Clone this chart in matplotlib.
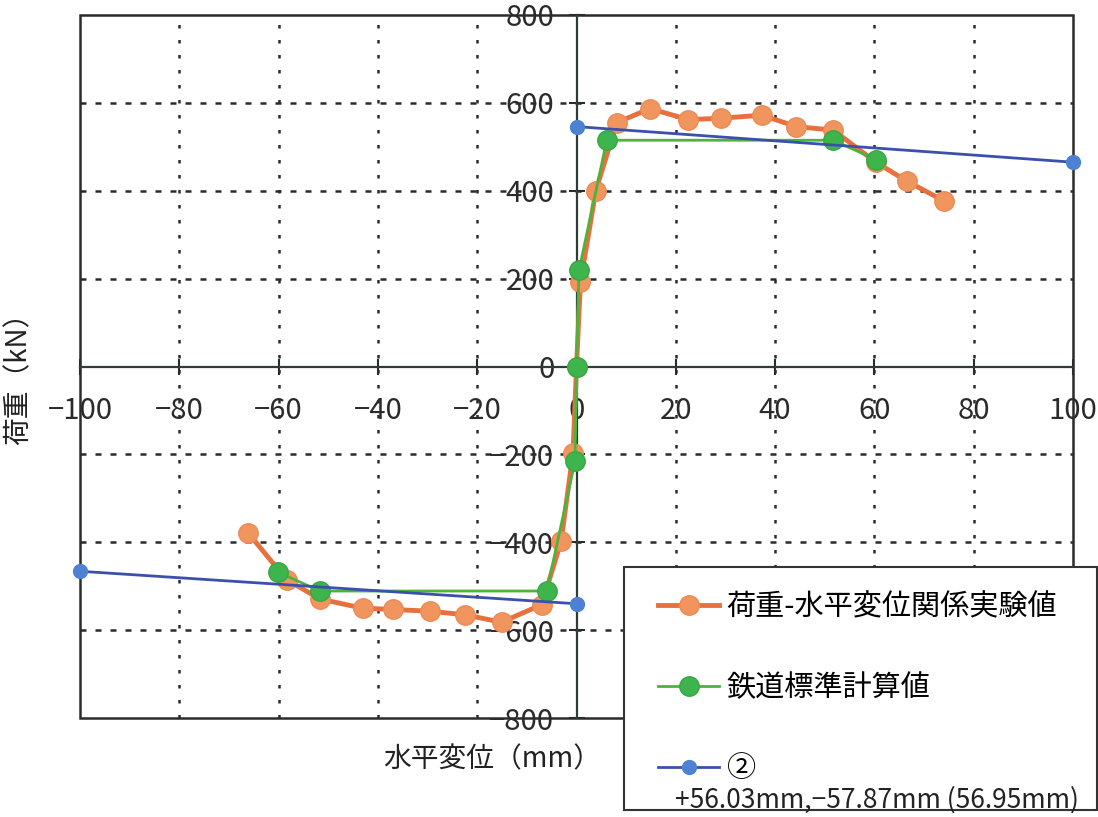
import numpy as np
import matplotlib
matplotlib.use("Agg")
import matplotlib.pyplot as plt
from matplotlib.patches import Rectangle

plt.rcParams['font.family'] = ['Noto Sans CJK JP', 'DejaVu Sans']

# Experimental load - horizontal displacement values (orange)
exp_x = [-66.2, -58.4, -51.7, -43.1, -36.9, -29.5, -22.5, -15.1, -7.0, -3.1, -0.7, 0.0,
         0.8, 3.9, 8.1, 14.8, 22.5, 29.1, 37.3, 44.3, 51.7, 60.3, 66.5, 74.0]
exp_y = [-378, -485, -529, -550, -553, -557, -565, -582, -542, -398, -196, 0,
         192, 400, 555, 587, 562, 565, 572, 546, 538, 465, 422, 377]

# Railway standard calculation (green)
calc_x = [-60.1, -51.7, -6.0, -0.3, 0.0, 0.5, 6.1, 51.7, 60.3]
calc_y = [-468, -511, -511, -216, 0, 219, 515, 515, 471]

# Case 2 lines (blue)
blue_neg_x = [-100, 0]
blue_neg_y = [-466, -540]
blue_pos_x = [0, 100]
blue_pos_y = [546, 465]

x_ticks = np.arange(-100, 101, 20)
y_ticks = np.arange(-800, 801, 200)

labels = ['荷重-水平変位関係実験値', '鉄道標準計算値', '②']
note = '+56.03mm,−57.87mm (56.95mm)'

fig = plt.figure(figsize=(10.98, 8.17), dpi=100)
ax = fig.add_axes([80 / 1098, 1 - 718 / 817, 993 / 1098, 703 / 817])

ax.set_xlim(-100, 100)
ax.set_ylim(-800, 800)

# grid
dark = '#2b2b2b'
for xv in x_ticks:
    if xv not in (-100, 0, 100):
        ax.axvline(xv, color=dark, lw=1.8, linestyle=(0, (1.4, 4.6)), zorder=1)
for yv in y_ticks:
    if yv not in (-800, 0, 800):
        ax.axhline(yv, color=dark, lw=1.8, linestyle=(0, (2.4, 3.6)), zorder=1)

# spines through zero + outer frame
axis_col = '#2f3d36'
for s in ['top', 'right']:
    ax.spines[s].set_visible(False)
ax.spines['left'].set_position('zero')
ax.spines['bottom'].set_position('zero')
ax.spines['left'].set_color(axis_col)
ax.spines['bottom'].set_color(axis_col)
ax.spines['left'].set_linewidth(1.6)
ax.spines['bottom'].set_linewidth(1.6)
ax.add_patch(Rectangle((0, 0), 1, 1, transform=ax.transAxes, fill=False,
                       edgecolor=dark, lw=1.8, zorder=2, clip_on=False))

ax.set_xticks(x_ticks)
ax.set_yticks(y_ticks)
ax.tick_params(axis='x', direction='inout', length=12, width=1.5, pad=15,
               labelsize=21, colors=dark)
ax.tick_params(axis='y', direction='inout', length=12, width=1.5, pad=10,
               labelsize=21, colors=dark)

ax.set_xlabel('水平変位（mm）', fontsize=20, color='#222222')
ax.set_ylabel('荷重（kN）', fontsize=20, color='#222222')
ax.xaxis.set_label_coords(0.415, -0.038)
ax.yaxis.set_label_coords(-0.047, 0.492)

# data
l1, = ax.plot(exp_x, exp_y, color='#e8703f', lw=3.5, marker='o', markersize=14,
              markerfacecolor='#f0955e', markeredgecolor='#ee8a55', zorder=3,
              clip_on=False)
l2, = ax.plot(calc_x, calc_y, color='#4db33a', lw=2, marker='o', markersize=14,
              markerfacecolor='#3db54c', markeredgecolor='#36a845', zorder=4,
              clip_on=False)
l3, = ax.plot(blue_pos_x, blue_pos_y, color='#3b50ad', lw=2, marker='o', markersize=10,
              markerfacecolor='#4d82d2', markeredgecolor='#4d82d2', zorder=5,
              clip_on=False)
ax.plot(blue_neg_x, blue_neg_y, color='#3b50ad', lw=2, marker='o', markersize=10,
        markerfacecolor='#4d82d2', markeredgecolor='#4d82d2', zorder=5,
        clip_on=False)

# legend box
fig.patches.append(Rectangle((624 / 1098, 1 - 810 / 817), 473 / 1098, 243 / 817,
                             transform=fig.transFigure, facecolor='white',
                             edgecolor='#333333', lw=1.5, zorder=4))
fig.legend([l1, l2, l3], labels, loc='upper left',
           bbox_to_anchor=(658 / 1098, 1 - 592 / 817), frameon=False,
           fontsize=21, handlelength=2.1, handletextpad=0.25, labelspacing=1.75,
           borderpad=0, borderaxespad=0)
fig.text(675 / 1098, 1 - 800 / 817, note, fontsize=19, color='#222222',
         ha='left', va='center', zorder=6)

fig.savefig('out.png', dpi=100, facecolor='white')
